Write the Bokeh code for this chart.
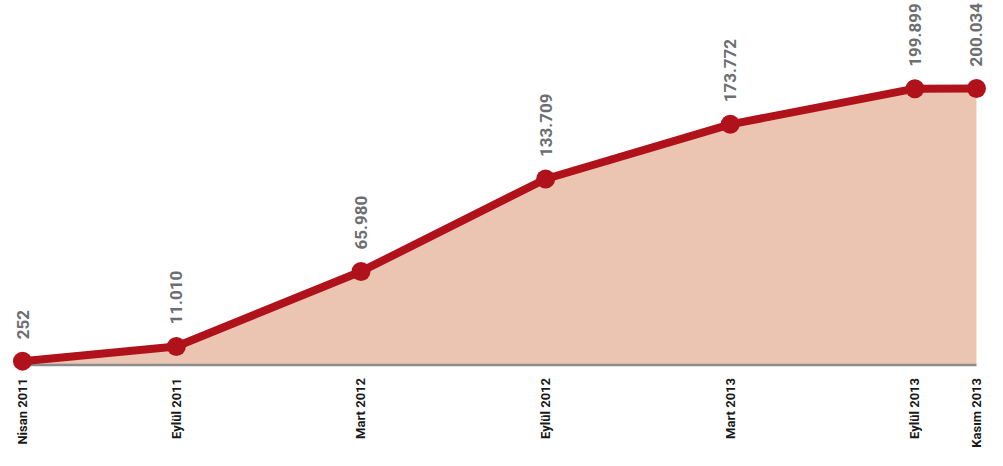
import math
from bokeh.plotting import figure
from bokeh.models import Range1d
from bokeh.embed import file_html
from bokeh.resources import INLINE
from bokeh.core.properties import value

dates = ["2011-04", "2011-09", "2012-03", "2012-09", "2013-03", "2013-09", "2013-11"]
categories = ["Nisan 2011", "Eylül 2011", "Mart 2012", "Eylül 2012", "Mart 2013", "Eylül 2013", "Kasım 2013"]
values = [252, 11010, 65980, 133709, 173772, 199899, 200034]
value_labels = ["252", "11.010", "65.980", "133.709", "173.772", "199.899", "200.034"]

months = [(int(d[:4]) - 2011) * 12 + int(d[5:]) - 4 for d in dates]

LINE = "#b0121b"
FILL = "#ecc4b2"
BASE = -2564

p = figure(width=987, height=450, output_backend="svg", toolbar_location=None,
           x_range=Range1d(-0.715, 31.36), y_range=Range1d(-65211, 264507),
           min_border=0, background_fill_color="white", border_fill_color="white")
p.axis.visible = False
p.grid.visible = False
p.outline_line_color = None

p.varea(x=months, y1=[BASE] * len(months), y2=values, fill_color=FILL)
p.line(x=[months[0], months[-1]], y=[BASE, BASE], line_color="#8c8c8c", line_width=2.5)
p.line(x=months, y=values, line_color=LINE, line_width=8)
p.scatter(x=months, y=values, size=19, fill_color=LINE, line_color=None)

p.text(x=months, y=values, text=value_labels, angle=math.pi / 2,
       text_align="left", text_baseline="middle", y_offset=-22,
       text_font=value("Roboto"), text_font_style="bold",
       text_font_size="17px", text_color="#6d6e71")

p.text(x=months, y=[BASE] * len(months), text=categories, angle=math.pi / 2,
       text_align="right", text_baseline="middle", y_offset=13,
       text_font=value("Roboto"), text_font_style="bold",
       text_font_size="13px", text_color="#1a1a1a")

open("out.html", "w").write(file_html(p, INLINE))
